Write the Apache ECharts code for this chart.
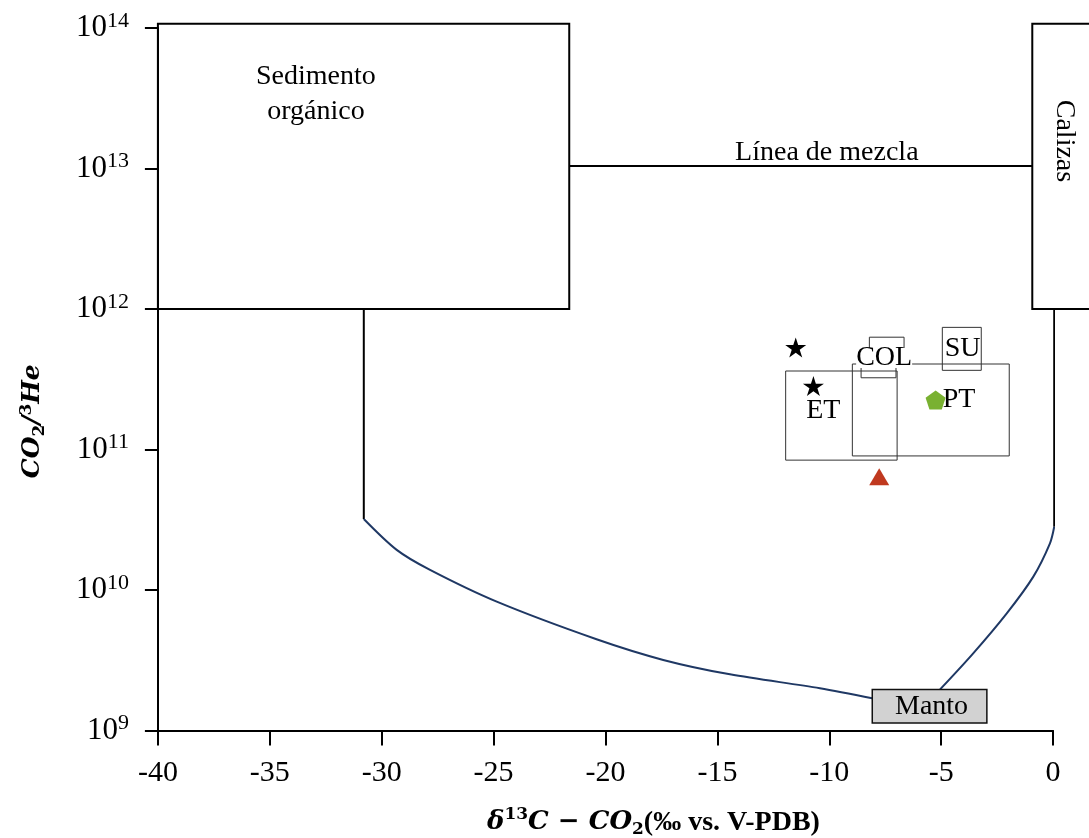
<!DOCTYPE html>
<html>
<head>
<meta charset="utf-8">
<script src="https://cdn.jsdelivr.net/npm/echarts@6/dist/echarts.min.js"></script>
<style>
  html, body { margin: 0; padding: 0; background: #fff; }
  #chart { width: 1089px; height: 838px; }
</style>
</head>
<body>
<div id="chart"></div>
<script>
// End-member boxes: [xMin, xMax, yMin, yMax]
const sedimentBox = [-40, -21.62, 1e12, 1.07e14];
const limestoneBox = [-0.93, 3, 1e12, 1.07e14];

// Mixing line between the two crustal end-members
const mixingLine = [[-21.62, 1.04e13], [-0.93, 1.04e13]];

// Vertical drops from the end-member boxes
const sedimentDrop = [[-30.8, 1e12], [-30.8, 3.2e10]];
const limestoneDrop = [[0.05, 1e12], [0.05, 2.82e10]];

// Mixing curves towards the mantle end-member
const mantleSedimentCurve = [
  [-30.8, 3.2e10], [-29.33, 1.93e10], [-27.84, 1.39e10], [-24.86, 8.26e9],
  [-20.4, 4.46e9], [-17.42, 3.18e9], [-14.44, 2.51e9], [-10.42, 2.0e9], [-8.03, 1.69e9]
];
const mantleLimestoneCurve = [
  [-5.05, 1.96e9], [-3.57, 3.54e9], [-2.07, 6.82e9], [-0.89, 1.24e10],
  [-0.14, 2.15e10], [0.05, 2.82e10]
];

// Site ranges: [xMin, xMax, yMin, yMax]
const etRange = [-11.95, -6.97, 8.4e10, 3.62e11];
const ptRange = [-8.97, -1.96, 9.0e10, 4.06e11];
const colRangeUpper = [-8.21, -6.66, 4.3e11, 6.3e11];
const colRangeLower = [-8.58, -7.02, 3.24e11, 4.9e11];
const suRange = [-4.95, -3.21, 3.66e11, 7.4e11];

// Samples
const starSamples = [[-11.5, 5.33e11], [-10.71, 2.83e11]];
const pentagonSamples = [[-5.25, 2.25e11]];
const triangleSamples = [[-7.77, 6.4e10]];

// Text labels
const siteNames = ['ET', 'PT', 'COL', 'SU'];
const sitePositions = [[-10.27, 1.89e11], [-4.2, 2.25e11], [-7.55, 4.48e11], [-4.04, 5.25e11]];
const regionNames = ['Sedimento\norgánico', 'Línea de mezcla', 'Calizas', 'Manto'];
const regionPositions = [[-32.94, 3.37e13], [-10.11, 1.29e13], [0.5, 1.57e13], [-5.52, 1.49e9]];

const SERIF = 'Liberation Serif, Times New Roman, serif';
const MATH = 'DejaVu Serif, serif';

function lineSeries(data, color, width, smooth) {
  return {
    type: 'line',
    data: data,
    symbol: 'none',
    clip: false,
    smooth: smooth ? 0.3 : false,
    silent: true,
    lineStyle: { color: color, width: width },
    z: 3
  };
}

// Rectangles drawn through the axes' own coordinate mapping
function boxSeries(boxes, color, width) {
  return {
    type: 'custom',
    clip: false,
    silent: true,
    z: 3,
    data: boxes,
    encode: { x: [0, 1], y: [2, 3] },
    renderItem: function (params, api) {
      const p0 = api.coord([api.value(0), api.value(3)]);
      const p1 = api.coord([api.value(1), api.value(2)]);
      return {
        type: 'rect',
        shape: { x: p0[0], y: p0[1], width: p1[0] - p0[0], height: p1[1] - p0[1] },
        style: { fill: null, stroke: color, lineWidth: width }
      };
    }
  };
}

// Invisible anchors carrying text labels
function textSeries(names, positions, styles, z) {
  return {
    type: 'scatter',
    clip: false,
    silent: true,
    z: z,
    symbolSize: 1,
    itemStyle: { color: 'rgba(0,0,0,0)', opacity: 1 },
    data: names.map(function (n, i) {
      return {
        name: n, value: positions[i],
        label: Object.assign({ show: true, color: '#000' }, styles[i])
      };
    }),
    label: {
      show: true, position: 'inside', formatter: '{b}', align: 'center',
      fontFamily: SERIF, fontSize: 28, color: '#000', opacity: 1
    }
  };
}

const starPath = 'path://M0,-1L0.223,-0.307L0.951,-0.309L0.361,0.117L0.588,0.809L0,0.38L-0.588,0.809L-0.361,0.117L-0.951,-0.309L-0.223,-0.307Z';
const pentagonPath = 'path://M0,-1L0.951,-0.309L0.588,0.809L-0.588,0.809L-0.951,-0.309Z';

const regionLabelStyles = [
  { lineHeight: 35 },
  {},
  { rotate: -90 },
  {
    backgroundColor: '#d2d2d2', borderColor: '#111', borderWidth: 1.5,
    padding: [2, 18, 2, 22], lineHeight: 28
  }
];

const siteLabelStyles = [
  {}, {}, { backgroundColor: '#fff', lineHeight: 20, padding: [0, 0] }, {}
];

const chart = echarts.init(document.getElementById('chart'), null, { renderer: 'canvas' });

chart.setOption({
  animation: false,
  backgroundColor: '#fff',
  grid: {
    left: 157.9, right: 35.9, top: 28, bottom: 107.5,
    containLabel: false, outerBoundsMode: 'none'
  },
  xAxis: {
    type: 'value',
    min: -40, max: 0, interval: 5,
    splitLine: { show: false },
    axisLine: { onZero: false, lineStyle: { color: '#000', width: 2 } },
    axisTick: { length: 15, lineStyle: { color: '#000', width: 2 } },
    axisLabel: { color: '#000', fontFamily: SERIF, fontSize: 30, margin: 28 },
    name: '{m|δ}{sup|13}{m|C − CO}{sub|2}{t|(‰ vs. V-PDB)}',
    nameLocation: 'middle',
    nameGap: 76,
    nameTextStyle: {
      padding: [0, 0, 0, 96],
      rich: {
        m: { fontFamily: MATH, fontStyle: 'italic', fontWeight: 'bold', fontSize: 26, lineHeight: 32, verticalAlign: 'middle', color: '#000' },
        sup: { fontFamily: MATH, fontWeight: 'bold', fontSize: 17, lineHeight: 17, verticalAlign: 'top', color: '#000' },
        sub: { fontFamily: MATH, fontWeight: 'bold', fontSize: 17, lineHeight: 17, verticalAlign: 'bottom', color: '#000' },
        t: { fontFamily: SERIF, fontWeight: 'bold', fontSize: 28, lineHeight: 32, verticalAlign: 'middle', color: '#000' }
      }
    }
  },
  yAxis: {
    type: 'log',
    logBase: 10,
    min: 1e9, max: 1e14,
    splitLine: { show: false },
    axisLine: { onZero: false, lineStyle: { color: '#000', width: 2 } },
    axisTick: { length: 13, lineStyle: { color: '#000', width: 2 } },
    minorTick: { show: false },
    axisLabel: {
      margin: 29,
      formatter: function (v) {
        return '{b|10}{s|' + Math.round(Math.log10(v)) + '}';
      },
      rich: {
        b: { fontFamily: SERIF, fontSize: 31, lineHeight: 36, verticalAlign: 'middle', color: '#000' },
        s: { fontFamily: SERIF, fontSize: 22, lineHeight: 22, verticalAlign: 'top', color: '#000' }
      }
    },
    name: '{m|CO}{sub|2}{m|/}{sup|3}{m|He}',
    nameLocation: 'middle',
    nameRotate: 90,
    nameGap: 110,
    nameTextStyle: {
      padding: [0, 84, 0, 0],
      rich: {
        m: { fontFamily: MATH, fontStyle: 'italic', fontWeight: 'bold', fontSize: 25, lineHeight: 30, verticalAlign: 'middle', color: '#000' },
        sup: { fontFamily: MATH, fontWeight: 'bold', fontSize: 17, lineHeight: 17, verticalAlign: 'top', color: '#000' },
        sub: { fontFamily: MATH, fontWeight: 'bold', fontSize: 17, lineHeight: 17, verticalAlign: 'bottom', color: '#000' }
      }
    }
  },
  series: [
    boxSeries([sedimentBox, limestoneBox], '#000', 2),
    lineSeries(mixingLine, '#000', 2),
    lineSeries(sedimentDrop, '#000', 2),
    lineSeries(limestoneDrop, '#000', 2),
    lineSeries(mantleSedimentCurve, '#1f3864', 2, true),
    lineSeries(mantleLimestoneCurve, '#1f3864', 2, true),
    boxSeries([etRange, ptRange, colRangeUpper, colRangeLower, suRange], '#333', 1),
    {
      type: 'scatter', data: starSamples, symbol: starPath, symbolSize: [21, 20],
      itemStyle: { color: '#000', opacity: 1 }, z: 5, silent: true
    },
    {
      type: 'scatter', data: pentagonSamples, symbol: pentagonPath, symbolSize: [20, 19],
      itemStyle: { color: '#79b131', opacity: 1 }, z: 5, silent: true
    },
    {
      type: 'scatter', data: triangleSamples, symbol: 'triangle', symbolSize: [20, 17],
      itemStyle: { color: '#c0391f', opacity: 1 }, z: 5, silent: true
    },
    textSeries(siteNames, sitePositions, siteLabelStyles, 8),
    textSeries(regionNames, regionPositions, regionLabelStyles, 9)
  ]
});
</script>
</body>
</html>
